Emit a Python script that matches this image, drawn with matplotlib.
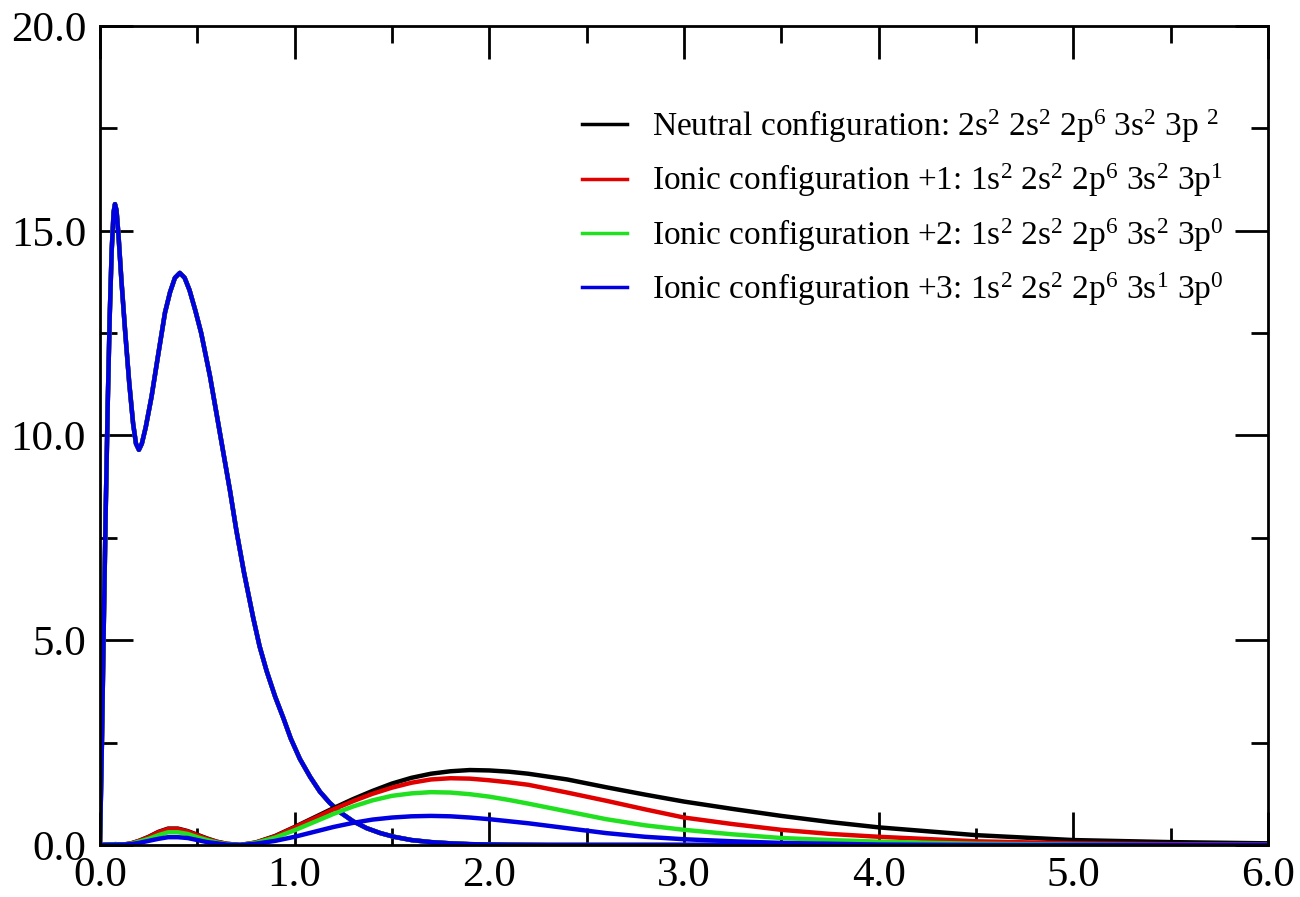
import matplotlib
matplotlib.use("Agg")
import matplotlib.pyplot as plt
from matplotlib.ticker import MultipleLocator, FormatStrFormatter

# --- dados ---
# curva do caroco (igual para as quatro configuracoes)
core_r = [0.0, 0.01, 0.02, 0.03, 0.04, 0.05, 0.06, 0.07, 0.077, 0.085, 0.095, 0.11,
          0.13, 0.15, 0.17, 0.185, 0.2, 0.215, 0.235, 0.265, 0.30, 0.334, 0.36,
          0.385, 0.41, 0.435, 0.46, 0.49, 0.52, 0.565, 0.6, 0.633, 0.668, 0.70,
          0.74, 0.787, 0.82, 0.856, 0.9, 0.942, 0.98, 1.027, 1.08, 1.13, 1.18,
          1.233, 1.3, 1.37, 1.44, 1.51, 1.6, 1.7, 1.8, 1.9, 2.1, 2.3, 6.0]
core_y = [0.0, 2.5, 5.5, 8.3, 10.8, 12.9, 14.5, 15.45, 15.65, 15.5, 14.9, 13.8,
          12.5, 11.3, 10.3, 9.8, 9.65, 9.8, 10.2, 10.95, 12.0, 13.0, 13.5,
          13.85, 13.97, 13.85, 13.55, 13.05, 12.5, 11.45, 10.5, 9.6, 8.65, 7.7,
          6.65, 5.55, 4.85, 4.25, 3.62, 3.1, 2.6, 2.1, 1.66, 1.3, 1.03,
          0.8, 0.58, 0.41, 0.29, 0.2, 0.12, 0.07, 0.04, 0.02, 0.005, 0.0, 0.0]

# curvas de valencia
val_r = [0.0, 0.08, 0.12, 0.16, 0.2, 0.25, 0.3, 0.35, 0.4, 0.45, 0.5, 0.55, 0.6,
         0.65, 0.72, 0.8, 0.9, 1.0, 1.1, 1.2, 1.3, 1.4, 1.5, 1.6, 1.7, 1.8, 1.9,
         2.0, 2.1, 2.2, 2.4, 2.6, 2.8, 3.0, 3.25, 3.5, 3.75, 4.0, 4.5, 5.0, 5.5, 6.0]
val_neutro = [0, 0.02, 0.01, 0.04, 0.1, 0.2, 0.32, 0.40, 0.40, 0.34, 0.25, 0.16, 0.08,
              0.03, 0.0, 0.06, 0.22, 0.44, 0.67, 0.9, 1.12, 1.32, 1.5, 1.64, 1.74,
              1.8, 1.83, 1.82, 1.79, 1.74, 1.6, 1.41, 1.23, 1.06, 0.88, 0.71, 0.56,
              0.43, 0.24, 0.12, 0.07, 0.04]
val_ion1 = [0, 0.02, 0.01, 0.04, 0.1, 0.19, 0.31, 0.39, 0.39, 0.33, 0.24, 0.15, 0.08,
            0.03, 0.0, 0.06, 0.21, 0.43, 0.65, 0.87, 1.07, 1.25, 1.4, 1.52, 1.6,
            1.63, 1.62, 1.58, 1.53, 1.47, 1.28, 1.08, 0.87, 0.67, 0.51, 0.37, 0.27,
            0.2, 0.09, 0.04, 0.02, 0.01]
val_ion2 = [0, 0.02, 0.01, 0.03, 0.08, 0.15, 0.24, 0.31, 0.31, 0.27, 0.19, 0.12, 0.06,
            0.02, 0.0, 0.05, 0.18, 0.36, 0.56, 0.76, 0.94, 1.09, 1.2, 1.26, 1.29,
            1.28, 1.24, 1.18, 1.1, 1.01, 0.82, 0.63, 0.48, 0.37, 0.26, 0.17, 0.12,
            0.08, 0.03, 0.01, 0.0, 0.0]
val_ion3 = [0, 0.01, 0.01, 0.02, 0.05, 0.1, 0.15, 0.19, 0.19, 0.17, 0.12, 0.07, 0.04,
            0.01, 0.0, 0.03, 0.1, 0.2, 0.32, 0.44, 0.54, 0.62, 0.67, 0.7, 0.71,
            0.7, 0.67, 0.63, 0.58, 0.53, 0.41, 0.29, 0.2, 0.14, 0.09, 0.05, 0.03,
            0.01, 0.0, 0.0, 0.0, 0.0]

rotulos = [
    r"Neutral configuration: 2s$^{2}$ 2s$^{2}$ 2p$^{6}$ 3s$^{2}$ 3p $^{2}$",
    r"Ionic configuration +1: 1s$^{2}$ 2s$^{2}$ 2p$^{6}$ 3s$^{2}$ 3p$^{1}$",
    r"Ionic configuration +2: 1s$^{2}$ 2s$^{2}$ 2p$^{6}$ 3s$^{2}$ 3p$^{0}$",
    r"Ionic configuration +3: 1s$^{2}$ 2s$^{2}$ 2p$^{6}$ 3s$^{1}$ 3p$^{0}$",
]
cores = ["#000000", "#e00000", "#20e020", "#0000e0"]

plt.rcParams["font.family"] = ["Liberation Serif", "DejaVu Serif"]
plt.rcParams["mathtext.fontset"] = "custom"
plt.rcParams["mathtext.rm"] = "Liberation Serif"
plt.rcParams["mathtext.it"] = "Liberation Serif"

fig = plt.figure(figsize=(13, 8.97), dpi=100)
ax = fig.add_axes([0.0769, 0.058, 0.8985, 0.913])

# caroco: desenhado em cada cor, azul por cima
for c in cores:
    ax.plot(core_r, core_y, color=c, lw=3.2, solid_joinstyle="round")

valencias = [val_neutro, val_ion1, val_ion2, val_ion3]
for v, c, lab in zip(valencias, cores, rotulos):
    ax.plot(val_r, v, color=c, lw=3.2, label=lab, solid_joinstyle="round")

ax.set_xlim(0, 6)
ax.set_ylim(0, 20)
ax.xaxis.set_major_locator(MultipleLocator(1.0))
ax.xaxis.set_minor_locator(MultipleLocator(0.5))
ax.yaxis.set_major_locator(MultipleLocator(5.0))
ax.yaxis.set_minor_locator(MultipleLocator(2.5))
ax.xaxis.set_major_formatter(FormatStrFormatter("%.1f"))
ax.yaxis.set_major_formatter(FormatStrFormatter("%.1f"))
ax.tick_params(which="both", direction="in", top=True, right=True, width=2,
               labelsize=31)
ax.tick_params(which="major", length=24)
ax.tick_params(which="minor", length=12)
ax.tick_params(axis="x", pad=8)
ax.tick_params(axis="y", pad=10)
for s in ax.spines.values():
    s.set_linewidth(2)

leg = ax.legend(loc="upper left", bbox_to_anchor=(0.4375, 0.895),
                bbox_transform=fig.transFigure, frameon=False, fontsize=24,
                handlelength=1.35, handletextpad=0.75, labelspacing=0.5,
                borderaxespad=0)
for h in leg.get_lines():
    h.set_linewidth(2.5)

fig.savefig("out.png", dpi=100)
